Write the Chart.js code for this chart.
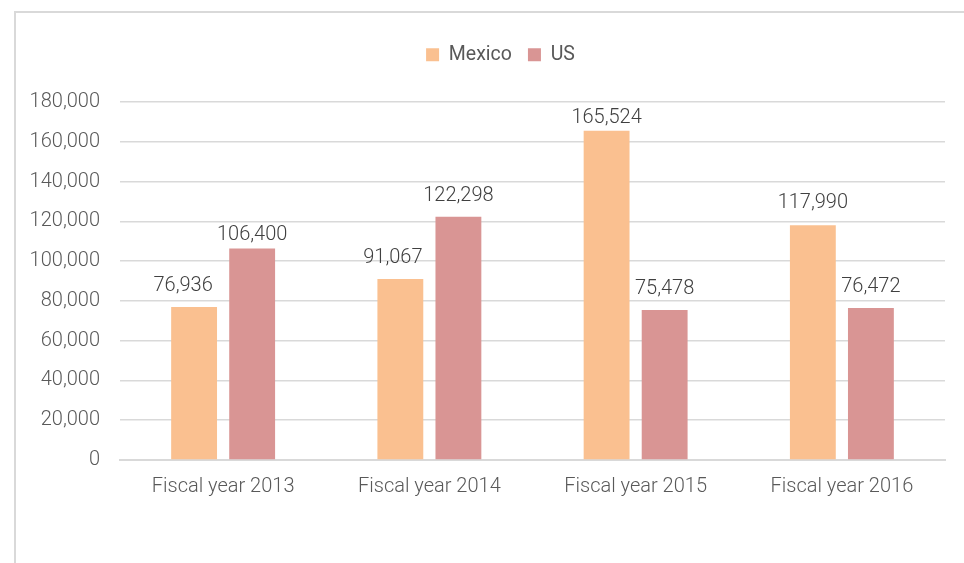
<!DOCTYPE html>
<html>
<head>
<meta charset="utf-8">
<script src="https://cdn.jsdelivr.net/npm/chart.js@4"></script>
<style>
html,body{margin:0;padding:0;background:#fff;}
#wrap{position:relative;width:964px;height:563px;overflow:hidden;}
#frame{position:absolute;left:14px;top:11px;width:960px;height:600px;border-left:2px solid #d9d9d9;border-top:2px solid #d9d9d9;box-sizing:border-box;}
canvas{position:absolute;left:0;top:0;}
</style>
</head>
<body>
<div id="wrap"><div id="frame"></div><canvas id="c" width="964" height="563"></canvas></div>
<script>
const categories = ["Fiscal year 2013", "Fiscal year 2014", "Fiscal year 2015", "Fiscal year 2016"];
const seriesNames = ["Mexico", "US"];
const mexico = [76936, 91067, 165524, 117990];
const us = [106400, 122298, 75478, 76472];
const yTicks = [0, 20000, 40000, 60000, 80000, 100000, 120000, 140000, 160000, 180000];

const fmt = v => v.toLocaleString('en-US');
const FONT = 'Roboto, "Noto Sans", sans-serif';

const legendMargin = {
  id: 'legendMargin',
  beforeInit(chart) {
    const fit = chart.legend.fit;
    chart.legend.fit = function () { fit.bind(chart.legend)(); this.height = 73; };
  },
  afterLayout(chart, args, opts) {
    chart.legend.left += opts.shift;
    chart.legend.right += opts.shift;
  }
};

const dataLabels = {
  id: 'dataLabels',
  afterDatasetsDraw(chart, args, opts) {
    const ctx = chart.ctx;
    ctx.save();
    ctx.font = '300 20px ' + FONT;
    ctx.fillStyle = '#404040';
    ctx.textAlign = 'center';
    ctx.textBaseline = 'bottom';
    chart.data.datasets.forEach((ds, di) => {
      chart.getDatasetMeta(di).data.forEach((bar, i) => {
        const adj = (opts.adjust[di] && opts.adjust[di][i]) || [0, 23];
        ctx.fillText(fmt(ds.data[i]), bar.x + adj[0], bar.y - (adj[1] - 12));
      });
    });
    ctx.restore();
  }
};

new Chart(document.getElementById('c'), {
  type: 'bar',
  data: {
    labels: categories,
    datasets: [
      { label: seriesNames[0], data: mexico, backgroundColor: 'rgb(250,192,144)' },
      { label: seriesNames[1], data: us, backgroundColor: 'rgb(217,149,148)' }
    ]
  },
  options: {
    responsive: false,
    animation: false,
    devicePixelRatio: 1,
    layout: { padding: { top: 29, bottom: 53, right: 19, left: 0 } },
    datasets: { bar: { categoryPercentage: 0.563, barPercentage: 0.79 } },
    plugins: {
      tooltip: { enabled: false },
      legendMargin: { shift: 28 },
      dataLabels: {
        adjust: [
          [[-11, 23], [-7.5, 23], [0, 15], [0, 24]],
          [[0, 15], [0, 23], [0, 23], [0, 23]]
        ]
      },
      legend: {
        position: 'top',
        labels: {
          boxWidth: 13, boxHeight: 13, padding: 16,
          color: '#595959',
          font: { family: FONT, size: 19.5, weight: '400' }
        }
      }
    },
    scales: {
      x: {
        grid: { display: false, drawTicks: false },
        border: { color: '#d9d9d9', width: 2 },
        ticks: { color: '#595959', padding: 15, font: { family: FONT, size: 20, weight: '300' } },
        afterFit(s) { s.height = 50; }
      },
      y: {
        min: 0, max: 180000,
        afterBuildTicks(s) { s.ticks = yTicks.map(v => ({ value: v })); },
        grid: { color: '#d9d9d9', lineWidth: 1.5, drawTicks: false },
        border: { display: false },
        ticks: { color: '#595959', padding: 20, font: { family: FONT, size: 20, weight: '300' }, callback: v => fmt(v) },
        afterFit(s) { s.width = 120; }
      }
    }
  },
  plugins: [legendMargin, dataLabels]
});
</script>
</body>
</html>
